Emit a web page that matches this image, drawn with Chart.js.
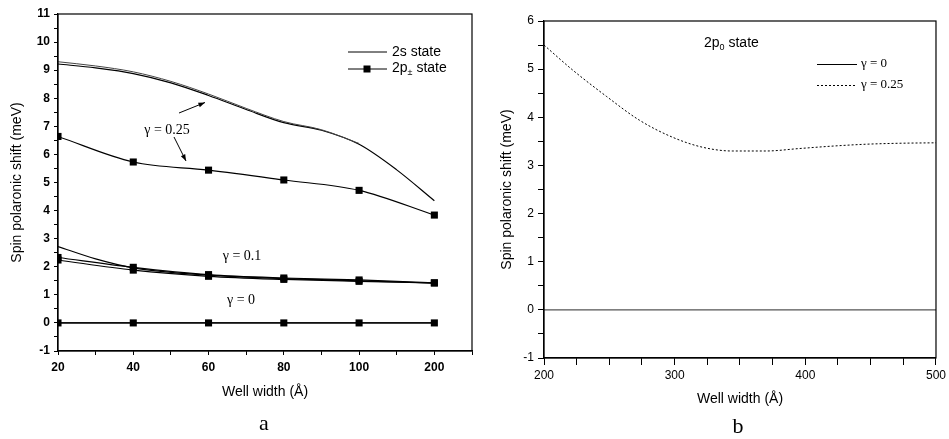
<!DOCTYPE html>
<html>
<head>
<meta charset="utf-8">
<script src="https://cdn.jsdelivr.net/npm/chart.js@4"></script>
<style>
  html, body { margin: 0; padding: 0; background: #fff; }
  #wrap { position: relative; width: 949px; height: 439px; }
  #chartA { position: absolute; left: 0; top: 0; }
  #chartB { position: absolute; left: 480px; top: 0; }
</style>
</head>
<body>
<div id="wrap">
  <canvas id="chartA" width="480" height="439"></canvas>
  <canvas id="chartB" width="469" height="439"></canvas>
</div>
<script>
// panel a: well widths are equally spaced categories
const WELL_LABELS = ['20', '40', '60', '80', '100', '200'];
const CURVE_STEPS = [0, 0.5, 1, 1.5, 2, 2.5, 3, 3.5, 4, 4.5, 5];
const MARK_STEPS = [0, 1, 2, 3, 4, 5];

const S2_G025 = [9.22, 9.08, 8.88, 8.55, 8.1, 7.6, 7.13, 6.86, 6.36, 5.45, 4.35];
const S2_G025_EDGE = [9.3, 9.15, 8.94, 8.6, 8.15, 7.64, 7.17, 6.88, 6.39];
const P2_G025 = [6.64, 5.73, 5.44, 5.09, 4.72, 3.84];
const S2_G010 = [2.72, 2.28, 1.96, 1.8, 1.7, 1.63, 1.58, 1.54, 1.5, 1.46, 1.42];
const P2_G010 = [2.33, 1.98, 1.72, 1.6, 1.53, 1.43];
const P2_G010_EDGE = [2.24, 1.88, 1.66, 1.55, 1.48, 1.42];
const S2_G0 = [0, 0, 0, 0, 0, 0, 0, 0, 0, 0, 0];
const P2_G0 = [0, 0, 0, 0, 0, 0];

// panel b: 2p0 state
const P0_WIDTH = [200, 222, 248, 273, 298, 321, 344, 370, 395, 420, 446, 471, 500];
const P0_G025 = [5.5, 4.98, 4.43, 3.94, 3.59, 3.38, 3.3, 3.3, 3.35, 3.4, 3.44, 3.46, 3.47];
const P0_G0 = [0, 0, 0, 0, 0, 0, 0, 0, 0, 0, 0, 0, 0];

const SANS = '"Liberation Sans", Arial, sans-serif';
const SERIF = '"Liberation Serif", "Times New Roman", serif';
Chart.defaults.font.family = SANS;
Chart.defaults.color = '#000';

const pts = (xs, ys) => ys.map((y, i) => ({ x: xs[i], y }));

function lineSet(data, extra) {
  return Object.assign({
    data,
    borderColor: '#000',
    backgroundColor: '#000',
    borderWidth: 1.2,
    pointRadius: 0,
    cubicInterpolationMode: 'monotone',
    fill: false,
  }, extra || {});
}

function markSet(data) {
  return lineSet(data, { pointStyle: 'rect', pointRadius: 5, pointBorderWidth: 0 });
}

function arrow(ctx, x1, y1, x2, y2) {
  const a = Math.atan2(y2 - y1, x2 - x1);
  ctx.beginPath();
  ctx.moveTo(x1, y1);
  ctx.lineTo(x2, y2);
  ctx.stroke();
  ctx.beginPath();
  ctx.moveTo(x2, y2);
  ctx.lineTo(x2 - 7 * Math.cos(a - 0.35), y2 - 7 * Math.sin(a - 0.35));
  ctx.lineTo(x2 - 7 * Math.cos(a + 0.35), y2 - 7 * Math.sin(a + 0.35));
  ctx.closePath();
  ctx.fill();
}

// text with a small lowered part, e.g. 2p± / 2p0
function subText(ctx, x, y, head, sub, tail, size) {
  ctx.font = `${size}px ${SANS}`;
  ctx.fillText(head, x, y);
  let w = ctx.measureText(head).width;
  ctx.font = `${Math.round(size * 0.65)}px ${SANS}`;
  ctx.fillText(sub, x + w, y + size * 0.35);
  w += ctx.measureText(sub).width;
  ctx.font = `${size}px ${SANS}`;
  ctx.fillText(tail, x + w, y);
}

const boxPlugin = {
  id: 'box',
  afterDraw(chart) {
    const { ctx, chartArea: c } = chart;
    ctx.save();
    ctx.strokeStyle = '#000';
    ctx.lineWidth = 1.2;
    ctx.strokeRect(c.left, c.top, c.right - c.left, c.bottom - c.top);
    ctx.restore();
  },
};

const notesA = {
  id: 'notesA',
  afterDraw(chart) {
    const ctx = chart.ctx;
    ctx.save();
    ctx.fillStyle = '#000';
    ctx.strokeStyle = '#000';
    ctx.lineWidth = 1;
    ctx.textBaseline = 'middle';
    // legend
    ctx.beginPath();
    ctx.moveTo(348, 52); ctx.lineTo(387, 52);
    ctx.moveTo(348, 69); ctx.lineTo(387, 69);
    ctx.stroke();
    ctx.fillRect(363.5, 65.5, 7, 7);
    ctx.textAlign = 'left';
    ctx.font = `14px ${SANS}`;
    ctx.fillText('2s state', 392, 52);
    subText(ctx, 392, 68, '2p', '±', ' state', 14);
    // gamma labels
    ctx.font = `14px ${SERIF}`;
    ctx.textAlign = 'center';
    ctx.fillText('γ = 0.25', 167, 130);
    ctx.fillText('γ = 0.1', 242, 256);
    ctx.fillText('γ = 0', 241, 300);
    arrow(ctx, 179, 113, 205, 102.5);
    arrow(ctx, 174, 137, 186, 161);
    ctx.font = `22px ${SERIF}`;
    ctx.textBaseline = 'alphabetic';
    ctx.fillText('a', 264, 430);
    ctx.restore();
  },
};

const notesB = {
  id: 'notesB',
  afterDraw(chart) {
    const ctx = chart.ctx;
    ctx.save();
    ctx.fillStyle = '#000';
    ctx.strokeStyle = '#000';
    ctx.lineWidth = 1;
    ctx.textBaseline = 'middle';
    ctx.textAlign = 'left';
    subText(ctx, 224, 43, '2p', '0', ' state', 14);
    ctx.beginPath();
    ctx.moveTo(337, 64.5); ctx.lineTo(377, 64.5);
    ctx.stroke();
    ctx.setLineDash([2, 2]);
    ctx.beginPath();
    ctx.moveTo(337, 85.5); ctx.lineTo(377, 85.5);
    ctx.stroke();
    ctx.setLineDash([]);
    ctx.font = `13px ${SERIF}`;
    ctx.fillText('γ = 0', 381, 64);
    ctx.fillText('γ = 0.25', 381, 85);
    ctx.font = `22px ${SERIF}`;
    ctx.textAlign = 'center';
    ctx.textBaseline = 'alphabetic';
    ctx.fillText('b', 258, 433);
    ctx.restore();
  },
};

function axisGrid(len) {
  return { display: true, drawOnChartArea: false, drawTicks: true, tickLength: len, color: '#000' };
}

new Chart(document.getElementById('chartA'), {
  type: 'line',
  data: {
    datasets: [
      lineSet(pts(CURVE_STEPS, S2_G025_EDGE), { borderColor: '#444', borderWidth: 1 }),
      lineSet(pts(CURVE_STEPS, S2_G025)),
      markSet(pts(MARK_STEPS, P2_G025)),
      lineSet(pts(CURVE_STEPS, S2_G010)),
      markSet(pts(MARK_STEPS, P2_G010_EDGE)),
      markSet(pts(MARK_STEPS, P2_G010)),
      lineSet(pts(CURVE_STEPS, S2_G0)),
      markSet(pts(MARK_STEPS, P2_G0)),
    ],
  },
  options: {
    responsive: false,
    animation: false,
    layout: { padding: { left: 0, right: 8, top: 14, bottom: 0 } },
    plugins: { legend: { display: false }, tooltip: { enabled: false } },
    scales: {
      x: {
        type: 'linear',
        min: 0,
        max: 5.5,
        afterFit: (s) => { s.height = 88; },
        grid: axisGrid(4),
        border: { display: true, color: '#000', width: 1.2 },
        ticks: {
          stepSize: 0.5,
          autoSkip: false,
          maxRotation: 0,
          padding: 5,
          font: { size: 12, weight: 'bold' },
          callback: (v) => (Number.isInteger(v) && v <= 5 ? WELL_LABELS[v] : ''),
        },
        title: {
          display: true,
          text: 'Well width (Å)',
          font: { size: 14 },
          padding: { top: 0, bottom: 38 },
        },
      },
      y: {
        min: -1,
        max: 11,
        afterFit: (s) => { s.width = 58; },
        grid: axisGrid(4),
        border: { display: true, color: '#000', width: 1.2 },
        ticks: {
          stepSize: 0.5,
          autoSkip: false,
          maxTicksLimit: 100,
          padding: 4,
          font: { size: 12, weight: 'bold' },
          callback: (v) => (Number.isInteger(v) ? String(v) : ''),
        },
        title: {
          display: true,
          text: 'Spin polaronic shift (meV)',
          font: { size: 14 },
          padding: { top: 9, bottom: 0 },
        },
      },
    },
  },
  plugins: [boxPlugin, notesA],
});

new Chart(document.getElementById('chartB'), {
  type: 'line',
  data: {
    datasets: [
      lineSet(pts(P0_WIDTH, P0_G0), { borderColor: '#555', cubicInterpolationMode: 'default', tension: 0 }),
      lineSet(pts(P0_WIDTH, P0_G025), { borderWidth: 1, borderDash: [2, 2] }),
    ],
  },
  options: {
    responsive: false,
    animation: false,
    layout: { padding: { left: 0, right: 11, top: 21, bottom: 0 } },
    plugins: { legend: { display: false }, tooltip: { enabled: false } },
    scales: {
      x: {
        type: 'linear',
        min: 200,
        max: 500,
        afterFit: (s) => { s.height = 81; },
        grid: axisGrid(7),
        border: { display: true, color: '#000', width: 1.2 },
        ticks: {
          stepSize: 25,
          autoSkip: false,
          maxRotation: 0,
          padding: 3,
          font: { size: 12 },
          callback: (v) => (v % 100 === 0 ? String(v) : ''),
        },
        title: {
          display: true,
          text: 'Well width (Å)',
          font: { size: 14 },
          padding: { top: 0, bottom: 31 },
        },
      },
      y: {
        min: -1,
        max: 6,
        afterFit: (s) => { s.width = 64; },
        grid: axisGrid(6),
        border: { display: true, color: '#000', width: 1.2 },
        ticks: {
          stepSize: 0.5,
          autoSkip: false,
          maxTicksLimit: 100,
          padding: 4,
          font: { size: 12 },
          callback: (v) => (Number.isInteger(v) ? String(v) : ''),
        },
        title: {
          display: true,
          text: 'Spin polaronic shift (meV)',
          font: { size: 14 },
          padding: { top: 19, bottom: 0 },
        },
      },
    },
  },
  plugins: [boxPlugin, notesB],
});
</script>
</body>
</html>
